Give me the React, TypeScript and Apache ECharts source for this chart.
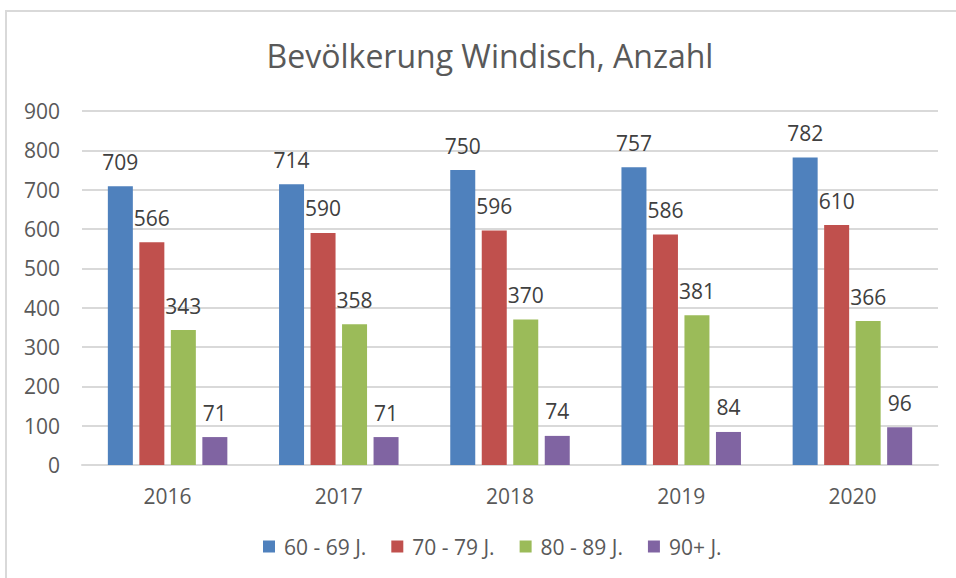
import React, { useEffect, useRef } from "react";
import * as echarts from "echarts";

const years = ["2016", "2017", "2018", "2019", "2020"];
const seriesNames = ["60 - 69 J.", "70 - 79 J.", "80 - 89 J.", "90+ J."];
const age60 = [709, 714, 750, 757, 782];
const age70 = [566, 590, 596, 586, 610];
const age80 = [343, 358, 370, 381, 366];
const age90 = [71, 71, 74, 84, 96];
const colors = ["#4F81BD", "#C0504D", "#9BBB59", "#8064A2"];

const FONT = "'Open Sans', 'Noto Sans', sans-serif";

export default function App() {
  const ref = useRef<HTMLDivElement>(null);
  useEffect(() => {
    if (!ref.current) return;
    const chart = echarts.init(ref.current, undefined, { renderer: "svg" });
    const values = [age60, age70, age80, age90];
    chart.setOption({
      animation: false,
      backgroundColor: "#ffffff",
      textStyle: { fontFamily: FONT },
      title: {
        text: "Bevölkerung Windisch, Anzahl",
        left: 485,
        textAlign: "center",
        top: 34,
        textStyle: { fontFamily: FONT, fontSize: 32, fontWeight: "normal", color: "#595959" },
      },
      graphic: [
        {
          type: "rect",
          shape: { x: 6, y: 11, width: 1000, height: 1000 },
          style: { fill: "none", stroke: "#d9d9d9", lineWidth: 2 },
          silent: true,
        },
      ],
      legend: {
        bottom: 16,
        left: 258,
        itemWidth: 12,
        itemHeight: 12,
        itemGap: 25,
        icon: "rect",
        textStyle: { fontFamily: FONT, fontSize: 21, color: "#595959", padding: [0, 0, 0, 4] },
        data: seriesNames,
      },
      grid: { left: 82, right: 18, top: 111, bottom: 113, containLabel: false },
      xAxis: {
        type: "category",
        data: years,
        axisLine: { lineStyle: { color: "#d9d9d9", width: 2 } },
        axisTick: { show: false },
        axisLabel: { margin: 20, fontFamily: FONT, fontSize: 21, color: "#595959" },
      },
      yAxis: {
        type: "value",
        min: 0,
        max: 900,
        interval: 100,
        axisLine: { show: false },
        axisTick: { show: false },
        splitLine: { lineStyle: { color: "#d9d9d9", width: 2 } },
        axisLabel: { margin: 22, fontFamily: FONT, fontSize: 21, color: "#595959" },
      },
      series: seriesNames.map((name, i) => ({
        name,
        type: "bar",
        data: values[i],
        barWidth: 25,
        barGap: "26%",
        itemStyle: { color: colors[i] },
        label: {
          show: true,
          position: "top",
          distance: 14,
          fontFamily: FONT,
          fontSize: 21,
          color: "#404040",
        },
      })),
    });
    return () => chart.dispose();
  }, []);
  return (
    <div
      ref={ref}
      style={{ position: "fixed", left: 0, top: 0, width: 956, height: 578 }}
    />
  );
}
